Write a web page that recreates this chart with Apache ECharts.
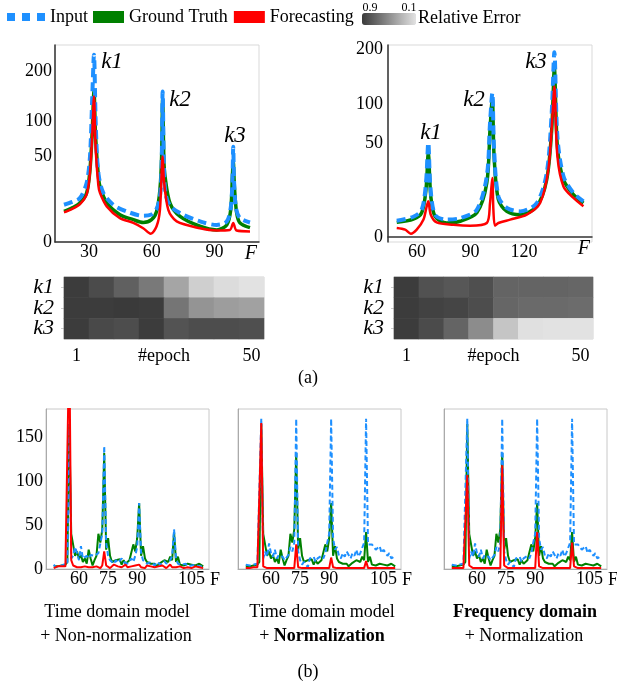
<!DOCTYPE html>
<html><head><meta charset="utf-8">
<script src="https://cdn.jsdelivr.net/npm/echarts@6/dist/echarts.min.js"></script>
<style>html,body{margin:0;padding:0;background:#fff}#c{width:617px;height:692px}</style>
</head><body><div id="c"></div>
<script>
// ---------------- DATA ----------------
const seriesNames = ['Input', 'Ground Truth', 'Forecasting'];

// (a) left panel: frequency F and amplitude
const a1InputF = [18.1, 22, 25.7, 28.9, 30.5, 31.6, 32.4, 33.3, 34.5, 36.9, 41.6, 48, 55.9, 59.9, 62.3, 63.9, 64.7, 65.2, 65.8, 66.6, 68.7, 73.5, 83, 91, 95.8, 97.7, 98.5, 98.9, 99.3, 100.2, 102.1, 106.9];
const a1InputV = [9.5, 11, 13.2, 23.8, 50, 145, 240, 90, 32.5, 16.4, 9.5, 6.4, 4.7, 5.2, 7.5, 14, 40, 155, 40, 16, 9, 5.7, 2.9, 2.0, 2.9, 8, 25, 62, 25, 8, 3.9, 2.6];
const a1TruthF = [18.1, 22, 25.7, 28.9, 30.5, 31.6, 32.4, 33.2, 34.5, 35.3, 38.5, 44.8, 51.2, 55.9, 59.9, 62.3, 63.9, 64.7, 65.2, 65.8, 66.3, 68.7, 73.5, 83, 91, 95.8, 97.7, 98.5, 98.9, 99.5, 100.5, 102.1, 106.9];
const a1TruthV = [6.4, 8, 10.4, 16.4, 35.7, 86, 155, 75, 30, 21, 10.5, 5.1, 3.4, 2.6, 3.4, 6.4, 18.7, 50, 140, 45, 30, 10.4, 4.5, 1.7, 1.0, 2.0, 7.1, 30, 45, 20, 6, 2.5, 1.4];
const a1ForeF = [18.1, 22, 25.7, 28.9, 30.5, 31.6, 32.4, 33.2, 34.5, 35.3, 38.5, 44.8, 51.2, 55.9, 59.5, 62.3, 63.9, 64.9, 65.2, 65.8, 67.9, 71.9, 83, 91, 97.3, 98.9, 100.5, 106.9];
const a1ForeV = [6.0, 7.5, 9.8, 15.5, 33, 80, 145, 60, 22, 16.4, 8.7, 3.9, 2.5, 1.3, 0.47, 1.7, 7.1, 43, 50, 26.5, 7.1, 2.9, 1.3, 0.92, 1.0, 2.5, 0.9, 0.77];

// (a) right panel
const a2InputF = [48.6, 57.9, 62.6, 65.0, 66.3, 67.5, 70.1, 76.6, 84.1, 93.5, 99.1, 100.9, 102.2, 103.2, 105.6, 110.3, 117.8, 127.1, 132.7, 135.5, 137.0, 138.7, 142.1, 147.7, 153.3];
const a2InputV = [1.5, 2.3, 4.2, 16.5, 50, 14, 2.8, 1.7, 2.0, 4.2, 20.8, 73, 117, 43, 9.3, 4.8, 3.7, 6.5, 23, 87, 193, 57, 20.8, 10.9, 7.2];
const a2TruthF = [48.6, 57.9, 62.6, 65.0, 66.3, 67.7, 70.1, 76.6, 84.1, 93.5, 99.1, 100.9, 102.2, 103.2, 105.6, 110.3, 117.8, 127.1, 132.7, 135.5, 137.0, 138.7, 142.1, 147.7, 153.3];
const a2TruthV = [1.2, 1.8, 3.3, 12.7, 40, 9.3, 2.4, 1.1, 1.4, 3.3, 16.5, 65, 108, 36.7, 7.9, 3.7, 2.8, 5.3, 18.6, 65, 160, 46, 18.6, 10.1, 6.5];
const a2ForeF = [48.6, 53.3, 56.5, 59.8, 63.6, 65.4, 66.3, 67.7, 71.0, 80.4, 89.7, 99.1, 100.9, 102.2, 102.8, 103.7, 105.6, 112.2, 121.5, 129.0, 133.6, 135.9, 137.0, 138.7, 142.1, 147.7, 153.3];
const a2ForeV = [0.45, 0.3, 0.06, 0.3, 1.7, 5.3, 7.2, 2.8, 1.2, 0.85, 0.72, 1.1, 6.5, 19.7, 4.2, 0.72, 1.1, 1.7, 2.8, 6.5, 25.6, 82, 128, 36.7, 14.4, 8.6, 5.3];

const aYTicks = [0, 50, 100, 200];
const a1XTicks = [30, 60, 90];
const a2XTicks = [60, 90, 120];

// (a) heatmaps: relative error per component and epoch
const heatRows = ['k1', 'k2', 'k3'];
const epochs = ['1', '8', '15', '22', '29', '36', '43', '50'];
const errLeft = [
  [0.89, 0.82, 0.72, 0.60, 0.39, 0.19, 0.13, 0.10],
  [0.89, 0.89, 0.90, 0.89, 0.62, 0.47, 0.43, 0.41],
  [0.89, 0.83, 0.81, 0.89, 0.78, 0.81, 0.81, 0.80]
];
const errRight = [
  [0.89, 0.79, 0.76, 0.80, 0.70, 0.70, 0.70, 0.69],
  [0.89, 0.86, 0.85, 0.81, 0.69, 0.67, 0.67, 0.66],
  [0.89, 0.82, 0.70, 0.51, 0.24, 0.11, 0.10, 0.10]
];

// (b) spectra, sample positions 4..81 on an 85-slot axis
const bSlots = 85;
const bStart = 4;
const bTickIdx = [17, 32, 47, 75];
const bTickLabels = ['60', '75', '90', '105'];
const bYTicks = [0, 50, 100, 150];
const bTruth = [3,4,3,5,4,6,5,8, 165, 40,42,15,20,12,16,8,12,6,22,12,4,10,15,40,30,45, 132, 22,35,15,8,6,10,8,11,5,10,6,8,10,9,28,20,35, 75, 15,26,12,8,10,6,4,6,3,5,7,8,10,12,8,14,10, 42, 8,14,5,3,4,3,6,4,5,3,4,3,6,4,3];
const b1Input = [5,2,4,3,4,5,4,6, 165, 12,15,25,18,10,26,12,10,15,12,16,14,15,16,18,20,40, 140, 30,15,10,8,6,10,7,9,12,8,10,6,9,12,8,15,25, 75, 18,10,8,6,5,8,6,4,8,6,5,7,9,6,8,10,15, 45, 12,6,8,5,4,6,3,5,4,3,5,4,3,2,3];
const b1Fore = [1,2,3,2,3,4,3,5, 260, 10,4,3,2,4,2,1,3,5,2,1,2,1,3,2,1,4, 20, 4,2,1,3,5,6,3,1,2,4,5,2,1,3,5,4,2, 5, 2,3,1,4,2,3,5,2,1,3,2,4,3,1,2,5,2, 4, 2,1,3,2,1,3,2,4,1,2,3,1,2,1,1];
const bNormInput = [5,3,4,2,5,4,6,8, 171, 12,20,14,29,18,14,22,12,16,18,14,10,12,16,25,20,30, 171, 20,10,5,8,10,2,12,10,14,8,12,10,15,12,18,30,40, 171, 35,22,25,15,12,18,14,20,16,12,18,15,22,14,18,20,30, 171, 28,30,28,25,22,20,26,18,22,24,15,18,12,14,15];
const b2Fore = [1,1,1,1,2,2,2,3, 166, 3,1,1,1,1,1,1,1,1,1,1,1,1,1,1,1,1, 28, 2,1,1,1,1,1,1,1,1,1,1,1,1,1,1,1,1, 13, 2,1,1,1,1,1,1,1,1,1,1,1,1,1,1,1,1, 9, 1,1,1,1,1,1,1,1,1,1,1,1,1,1,1];
const b3Fore = [1,1,1,1,1,1,1,1, 107, 4,3,1,1,1,1,1,1,1,1,1,1,1,1,1,1,1, 118, 4,3,1,1,1,1,1,1,1,1,1,1,1,1,1,1,1, 42, 3,2,1,1,1,1,1,1,1,1,1,1,1,1,1,1,1, 30, 3,2,1,1,1,1,1,1,1,1,1,1,1,1,1];

// ---------------- CHART ----------------
const FONT = '"Liberation Serif", "Times New Roman", serif';
const BLUE = '#1e90ff', GREEN = '#008000', RED = '#ff0000';
const txt = { fontFamily: FONT, fontSize: 18, color: '#000' };

const grids = [
  { left: 55, top: 45, width: 204, height: 197 },
  { left: 388, top: 45, width: 204, height: 197 },
  { left: 64, top: 277, width: 200, height: 62 },
  { left: 394, top: 277, width: 199, height: 62 },
  { left: 46, top: 409, width: 163, height: 160 },
  { left: 238, top: 409, width: 163, height: 160 },
  { left: 444, top: 409, width: 163, height: 160 }
].map((g, i) => Object.assign({
  show: true, borderColor: i < 4 ? '#d9d9d9' : '#c8c8c8', borderWidth: 1,
  outerBoundsMode: 'none', containLabel: false
}, g));

const sq = v => Math.sqrt(v);
const pairs = (F, V) => F.map((f, i) => [f, sq(V[i])]);
const bCats = Array.from({ length: bSlots }, (_, i) => {
  const k = bTickIdx.indexOf(i); return k >= 0 ? bTickLabels[k] : '';
});
const pad = arr => Array(bStart).fill(null).concat(arr);

function topX(gi, min, max, ticks) {
  return {
    gridIndex: gi, type: 'value', min, max,
    axisLine: { show: true, lineStyle: { color: '#333', width: 1.5 } },
    axisTick: { show: false }, splitLine: { show: false },
    axisLabel: Object.assign({ customValues: ticks, margin: 1 }, txt),
    name: 'F', nameLocation: 'end', nameGap: -2, nameMoveOverlap: false,
    nameTextStyle: { fontFamily: FONT, fontSize: 20, fontStyle: 'italic', color: '#000', align: 'right', verticalAlign: 'top', padding: [2, 0, 0, 0] }
  };
}
function topY(gi, min, max, margin) {
  return {
    gridIndex: gi, type: 'value', min, max,
    axisLine: { show: true, lineStyle: { color: '#333', width: 1.5 } },
    axisTick: { show: false }, splitLine: { show: false },
    axisLabel: Object.assign({ customValues: aYTicks.map(sq), margin, formatter: v => String(Math.round(v * v)) }, txt)
  };
}
function heatX(gi) {
  return {
    gridIndex: gi, type: 'category', data: epochs,
    axisLine: { show: false }, axisTick: { show: false }, splitLine: { show: false },
    axisLabel: Object.assign({ interval: (i) => i === 0 || i === epochs.length - 1, margin: 8 }, txt),
    name: '#epoch', nameLocation: 'middle', nameGap: 8, nameMoveOverlap: false,
    nameTextStyle: Object.assign({ verticalAlign: 'top' }, txt)
  };
}
function heatY(gi) {
  return {
    gridIndex: gi, type: 'category', data: heatRows, inverse: true,
    axisLine: { show: false },
    axisTick: { show: true, alignWithLabel: true, length: 3, lineStyle: { color: '#cccccc' } },
    axisLabel: { interval: 0, fontFamily: FONT, fontSize: 22, fontStyle: 'italic', color: '#000', margin: 10, hideOverlap: false }
  };
}
function bX(gi) {
  return {
    gridIndex: gi, type: 'category', data: bCats, boundaryGap: false,
    axisLine: { show: true, lineStyle: { color: '#aaaaaa' } },
    axisTick: { show: false }, splitLine: { show: false },
    axisLabel: Object.assign({ interval: 0, margin: 1 }, txt),
    name: 'F', nameLocation: 'end', nameGap: 1, nameMoveOverlap: false,
    nameTextStyle: { fontFamily: FONT, fontSize: 18, color: '#000', align: 'left', verticalAlign: 'top', padding: [2, 0, 0, 0] }
  };
}
function bY(gi, showLabels) {
  return {
    gridIndex: gi, type: 'value', min: 0, max: 182,
    axisLine: { show: true, lineStyle: { color: '#aaaaaa' } },
    axisTick: { show: false }, splitLine: { show: false },
    axisLabel: Object.assign({ show: showLabels, customValues: bYTicks, margin: 3 }, txt)
  };
}

const xAxis = [topX(0, 13.8, 111.2, a1XTicks), topX(1, 43.7, 158.1, a2XTicks), heatX(2), heatX(3), bX(4), bX(5), bX(6)];
const yAxis = [topY(0, 0, 16.3, 3), topY(1, -0.38, 14.44, 5), heatY(2), heatY(3), bY(4, true), bY(5, false), bY(6, false)];

function line(name, gi, data, big) {
  const color = name === 'Input' ? BLUE : name === 'Ground Truth' ? GREEN : RED;
  const ls = { color, width: big ? (name === 'Input' ? 4 : name === 'Ground Truth' ? 3.5 : 2.5) : 2 };
  if (name === 'Input') ls.type = big ? [9, 5] : [5, 3];
  return {
    type: 'line', name, xAxisIndex: gi, yAxisIndex: gi, data, color,
    showSymbol: false, symbol: 'none', smooth: big ? 0.3 : false, lineStyle: ls,
    clip: true, silent: true
  };
}

const series = [
  line('Ground Truth', 0, pairs(a1TruthF, a1TruthV), true),
  line('Input', 0, pairs(a1InputF, a1InputV), true),
  line('Forecasting', 0, pairs(a1ForeF, a1ForeV), true),
  line('Ground Truth', 1, pairs(a2TruthF, a2TruthV), true),
  line('Input', 1, pairs(a2InputF, a2InputV), true),
  line('Forecasting', 1, pairs(a2ForeF, a2ForeV), true),
  line('Ground Truth', 4, pad(bTruth)), line('Input', 4, pad(b1Input)), line('Forecasting', 4, pad(b1Fore)),
  line('Ground Truth', 5, pad(bTruth)), line('Input', 5, pad(bNormInput)), line('Forecasting', 5, pad(b2Fore)),
  line('Ground Truth', 6, pad(bTruth)), line('Input', 6, pad(bNormInput)), line('Forecasting', 6, pad(b3Fore))
];
const heatIdx = [];
[[errLeft, 2], [errRight, 3]].forEach(([m, gi]) => {
  const data = [];
  m.forEach((row, r) => row.forEach((v, c) => data.push([c, r, v])));
  heatIdx.push(series.length);
  series.push({ type: 'heatmap', xAxisIndex: gi, yAxisIndex: gi, data, silent: true, itemStyle: { borderWidth: 0 } });
});

function t(text, x, y, size, extra) {
  return { type: 'text', x, y, silent: true, style: Object.assign({ text, fontFamily: FONT, fontSize: size, fill: '#000', align: 'center', verticalAlign: 'middle' }, extra || {}) };
}
const kFont = { fontStyle: 'italic' };
const graphic = [
  t('0.9', 370, 8, 12), t('0.1', 409, 8, 12),
  t('Relative Error', 418, 18, 18, { align: 'left' }),
  t('k1', 112, 62, 23, kFont), t('k2', 180, 100, 23, kFont), t('k3', 235, 136, 23, kFont),
  t('k1', 431, 133, 23, kFont), t('k2', 474, 100, 23, kFont), t('k3', 536, 62, 23, kFont),
  t('(a)', 308, 378, 18), t('(b)', 308, 672, 18),
  t('Time domain model', 117, 612, 18), t('+ Non-normalization', 116, 636, 18),
  t('Time domain model', 322, 612, 18),
  t('+ {b|Normalization}', 322, 636, 18, { rich: { b: { fontFamily: FONT, fontSize: 18, fontWeight: 'bold' } } }),
  t('{b|Frequency domain}', 525, 612, 18, { rich: { b: { fontFamily: FONT, fontSize: 18, fontWeight: 'bold' } } }),
  t('+ Normalization', 524, 636, 18)
];

const chart = echarts.init(document.getElementById('c'), null, { renderer: 'canvas' });
chart.setOption({
  animation: false,
  backgroundColor: '#fff',
  legend: [
    { data: [{ name: 'Input', icon: 'path://M0,0h8v8h-8zM15,0h8v8h-8zM30,0h8v8h-8z' }], left: 7, top: 8, padding: 0,
      itemWidth: 38, itemHeight: 8, itemGap: 0, selectedMode: false, textStyle: txt },
    { data: [{ name: 'Ground Truth', icon: 'rect' }, { name: 'Forecasting', icon: 'rect' }], left: 93, top: 8, padding: 0,
      itemWidth: 31, itemHeight: 12, itemGap: 6, selectedMode: false, textStyle: txt }
  ],
  visualMap: {
    type: 'continuous', min: 0.1, max: 0.9, seriesIndex: heatIdx, orient: 'horizontal', inverse: true,
    left: 362, top: 13, itemWidth: 12, itemHeight: 54, padding: 0, calculable: false, hoverLink: false,
    text: null, inRange: { color: ['#e2e2e2', '#3a3a3a'] }
  },
  grid: grids, xAxis, yAxis, series, graphic
});
</script></body></html>
